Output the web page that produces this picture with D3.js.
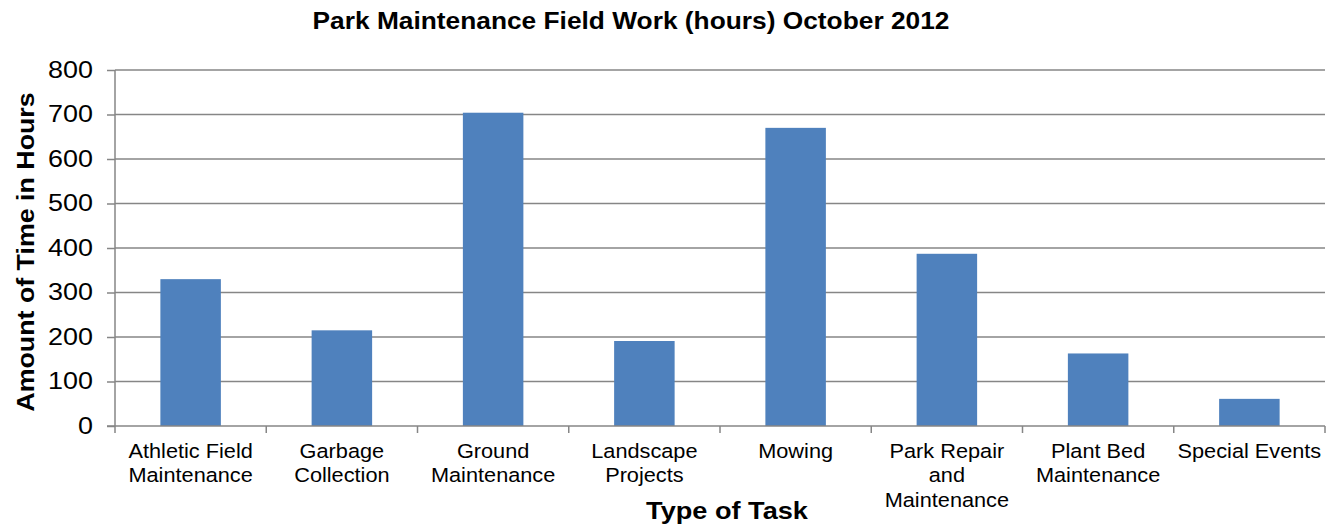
<!DOCTYPE html>
<meta charset="utf-8">
<title>Park Maintenance Field Work</title>
<script src="https://d3js.org/d3.v7.min.js"></script>
<style>
    body { margin: 0; background: #fff; }
    text { font-family: "Liberation Sans", Arial, sans-serif; fill: #000; }
</style>
<body>
<script>
    // task categories and hours
    var tasks = ["Athletic Field Maintenance", "Garbage Collection", "Ground Maintenance",
        "Landscape Projects", "Mowing", "Park Repair and Maintenance",
        "Plant Bed Maintenance", "Special Events"];
    var hours = [330, 215, 704, 191, 670, 387, 163, 61];
    // how the tick labels break across lines
    var taskLabels = [
        ["Athletic Field", "Maintenance"],
        ["Garbage", "Collection"],
        ["Ground", "Maintenance"],
        ["Landscape", "Projects"],
        ["Mowing"],
        ["Park Repair", "and", "Maintenance"],
        ["Plant Bed", "Maintenance"],
        ["Special Events"]
    ];
    var yTicks = [0, 100, 200, 300, 400, 500, 600, 700, 800];

    var width = 1332, height = 526;
    var mLeft = 115, mRight = 1325, mTop = 70, mBottom = 426;
    var grid = "#868686";

    var svg = d3.select("body").append("svg")
        .attr("width", width).attr("height", height);

    var x = d3.scaleBand().domain(tasks).range([mLeft, mRight])
        .paddingInner(0.6).paddingOuter(0.3);
    var y = d3.scaleLinear().domain([0, 800]).range([mBottom, mTop]);

    // y ticks (labels widened a bit like the original)
    var yAxis = d3.axisLeft(y).tickValues(yTicks)
        .tickSize(8).tickPadding(6).tickFormat(d3.format("d"));
    var gy = svg.append("g").attr("transform", "translate(" + mLeft + ",0)").call(yAxis);
    gy.selectAll(".tick line").attr("stroke", grid).attr("stroke-width", 1.5);
    gy.select(".domain").remove();
    gy.selectAll(".tick text")
        .attr("x", 0)
        .attr("transform", "translate(-22,0) scale(1.17,1)")
        .style("font-size", "23px").attr("fill", "#000");

    // gridlines
    svg.append("g").selectAll("line")
        .data(yTicks.filter(d => d > 0))
        .enter().append("line")
        .attr("x1", mLeft).attr("x2", mRight)
        .attr("y1", d => y(d)).attr("y2", d => y(d))
        .attr("stroke", grid).attr("stroke-width", 1.5);

    // bars
    svg.append("g").selectAll("rect")
        .data(tasks)
        .enter().append("rect")
        .attr("x", d => x(d))
        .attr("width", x.bandwidth())
        .attr("y", (d, i) => y(hours[i]))
        .attr("height", (d, i) => y(0) - y(hours[i]))
        .attr("fill", "#4F81BD");

    // axis lines
    svg.append("line").attr("x1", mLeft).attr("x2", mLeft)
        .attr("y1", mTop).attr("y2", mBottom)
        .attr("stroke", grid).attr("stroke-width", 1.5);
    svg.append("line").attr("x1", mLeft - 8).attr("x2", mRight)
        .attr("y1", mBottom).attr("y2", mBottom)
        .attr("stroke", grid).attr("stroke-width", 1.5);

    // category boundary ticks
    var bounds = d3.range(tasks.length + 1).map(i => mLeft + i * x.step());
    svg.append("g").selectAll("line")
        .data(bounds)
        .enter().append("line")
        .attr("x1", d => d).attr("x2", d => d)
        .attr("y1", mBottom).attr("y2", mBottom + 7)
        .attr("stroke", grid).attr("stroke-width", 1.5);

    // category labels
    var lab = svg.append("g").selectAll("text")
        .data(tasks)
        .enter().append("text")
        .attr("text-anchor", "middle")
        .style("font-size", "20.5px")
        .attr("transform", d => "translate(" + (x(d) + x.bandwidth() / 2) + "," + (mBottom + 32) + ") scale(1.06,1)");
    lab.selectAll("tspan")
        .data((d, i) => taskLabels[i])
        .enter().append("tspan")
        .attr("x", 0)
        .attr("dy", (d, i) => i === 0 ? 0 : 24.4)
        .text(d => d);

    // titles
    svg.append("text")
        .attr("transform", "translate(631,29) scale(1.12,1)")
        .attr("text-anchor", "middle")
        .style("font-size", "23.5px").style("font-weight", "bold")
        .text("Park Maintenance Field Work (hours) October 2012");

    svg.append("text")
        .attr("transform", "translate(33.5,252) rotate(-90) scale(1.116,1)")
        .attr("text-anchor", "middle")
        .style("font-size", "24px").style("font-weight", "bold")
        .text("Amount of Time in Hours");

    svg.append("text")
        .attr("transform", "translate(727,519) scale(1.18,1)")
        .attr("text-anchor", "middle")
        .style("font-size", "23px").style("font-weight", "bold")
        .text("Type of Task");
</script>
</body>
